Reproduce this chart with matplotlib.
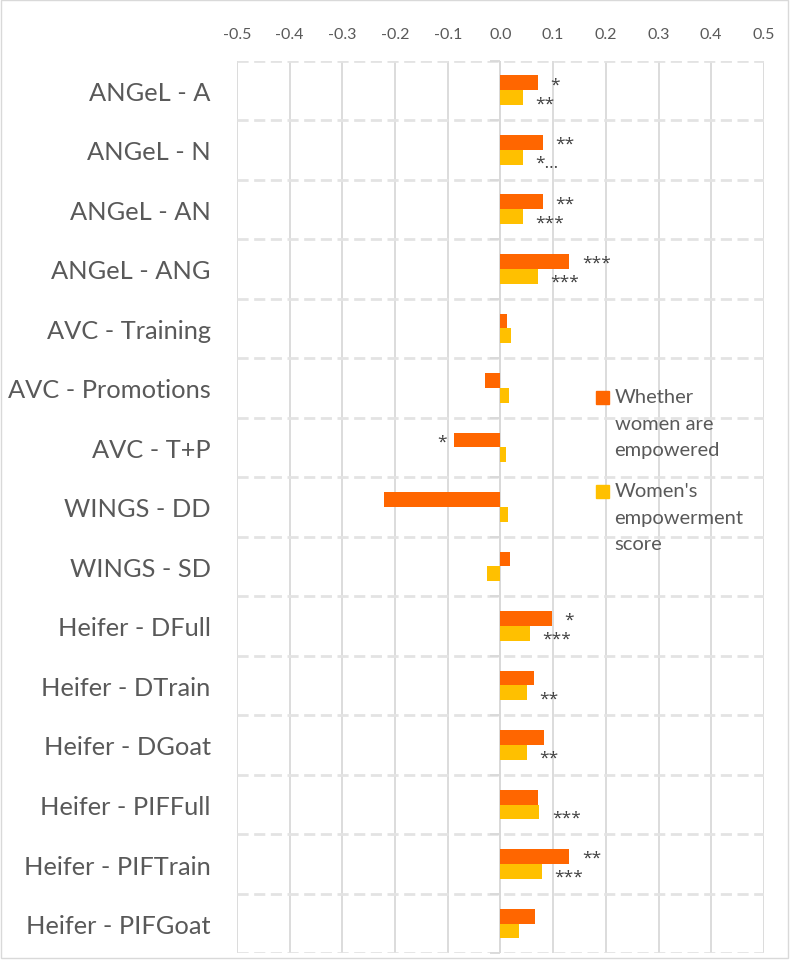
import matplotlib
matplotlib.use("Agg")
import matplotlib.pyplot as plt
from matplotlib.patches import Rectangle
import numpy as np

plt.rcParams["font.family"] = ["Lato", "DejaVu Sans"]

# --------- données (de haut en bas) ---------
categories = [
    "ANGeL - A", "ANGeL - N", "ANGeL - AN", "ANGeL - ANG",
    "AVC - Training", "AVC - Promotions", "AVC - T+P",
    "WINGS - DD", "WINGS - SD",
    "Heifer - DFull", "Heifer - DTrain", "Heifer - DGoat",
    "Heifer - PIFFull", "Heifer - PIFTrain", "Heifer - PIFGoat",
]
empowered = [0.071, 0.081, 0.081, 0.131, 0.013, -0.029, -0.088, -0.221, 0.019,
             0.098, 0.064, 0.083, 0.071, 0.131, 0.066]
score = [0.042, 0.042, 0.042, 0.071, 0.020, 0.016, 0.011, 0.015, -0.025,
         0.056, 0.050, 0.050, 0.074, 0.078, 0.035]
stars_empowered = ["*", "**", "**", "***", "", "", "*", "", "",
                   "*", "", "", "", "**", ""]
stars_score = ["**", "*\u2026", "***", "***", "", "", "", "", "",
               "***", "**", "**", "***", "***", ""]
xticks = [-0.5, -0.4, -0.3, -0.2, -0.1, 0.0, 0.1, 0.2, 0.3, 0.4, 0.5]

ORANGE = "#FF6600"
YELLOW = "#FFC000"
GRID = "#d9d9d9"
TXT = "#595959"

fig = plt.figure(figsize=(7.9, 9.62), dpi=100)
ax = fig.add_axes([0.300, 0.008, 0.667, 0.928])

y = np.arange(len(categories))
h = 0.25
ax.barh(y - h / 2, empowered, height=h, color=ORANGE, zorder=3)
ax.barh(y + h / 2, score, height=h, color=YELLOW, zorder=3)

# étoiles de significativité
star_font = dict(fontsize=12.5, color="#404040", family=["Open Sans", "DejaVu Sans"], zorder=4)
for i in range(len(categories)):
    for val, lab, dy, yy in [(empowered[i], stars_empowered[i], -1, y[i] - h / 2),
                             (score[i], stars_score[i], -4, y[i] + h / 2)]:
        if not lab:
            continue
        if val >= 0:
            ax.annotate(lab, (val, yy), xytext=(9, dy), textcoords="offset points",
                        ha="left", va="center", **star_font)
        else:
            ax.annotate(lab, (val, yy), xytext=(-5, dy), textcoords="offset points",
                        ha="right", va="center", **star_font)

ax.set_xlim(-0.5, 0.5)
ax.set_ylim(len(categories) - 0.5, -0.5)
ax.set_xticks(xticks)
ax.set_xticklabels([f"{t:.1f}" for t in xticks])
ax.xaxis.tick_top()
ax.tick_params(axis="x", length=0, pad=14, labelsize=11.5, labelcolor=TXT)

ax.set_yticks(y)
ax.set_yticklabels(categories)
ax.tick_params(axis="y", length=0, pad=19, labelsize=18.3, labelcolor=TXT)

bounds = np.arange(len(categories) + 1) - 0.5
ax.set_yticks(bounds, minor=True)
ax.tick_params(axis="y", which="minor", length=0)

ax.grid(True, axis="x", which="major", color=GRID, lw=1.3, zorder=0)
ax.grid(True, axis="y", which="minor", color="#e3e3e3", lw=2, ls=(0, (4, 2)), zorder=0)
ax.grid(False, axis="y", which="major")
for s in ax.spines.values():
    s.set_visible(False)

# axe vertical à zéro + petites graduations
ax.axvline(0, color=GRID, lw=1.3, zorder=2)
ax.plot(np.zeros(len(bounds)), bounds, ls="none", marker=0, markersize=7,
        color=GRID, mew=1.3, zorder=2, clip_on=False)

# légende (sans cadre)
leg = [(ORANGE, "Whether\nwomen are\nempowered", 0.586),
       (YELLOW, "Women's\nempowerment\nscore", 0.488)]
for col, txt, yy in leg:
    fig.patches.append(Rectangle((0.7545, yy - 0.0065), 0.0158, 0.013,
                                 transform=fig.transFigure, color=col, zorder=5))
    fig.text(0.778, yy + 0.0095, txt, ha="left", va="top", fontsize=14.5,
             color=TXT, linespacing=1.68, zorder=5)

fig.patches.append(Rectangle((0.001, 0.003), 0.997, 0.996, transform=fig.transFigure,
                             fill=False, edgecolor=GRID, lw=1))

fig.savefig("out.png", dpi=100)
